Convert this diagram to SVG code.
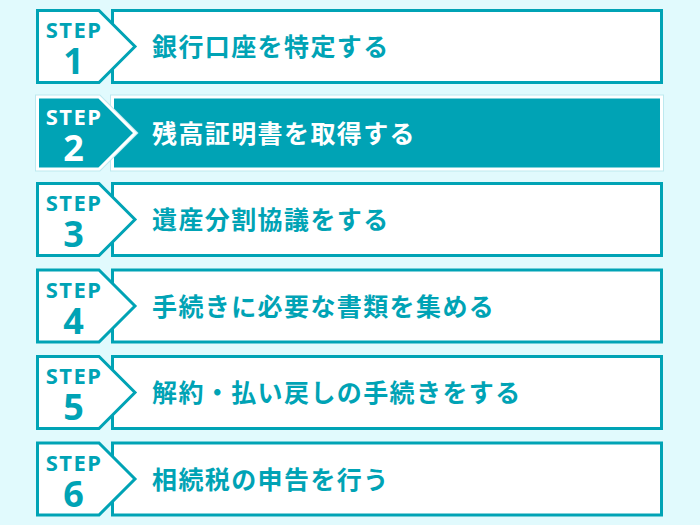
<svg xmlns="http://www.w3.org/2000/svg" width="700" height="525" viewBox="0 0 700 525">
<style>
.box{fill:#ffffff;stroke:#00a3b5;stroke-width:3}
.badge{fill:#ffffff;stroke:#00a3b5;stroke-width:3;stroke-linejoin:miter}
.hbox{fill:#00a3b5;stroke:#ffffff;stroke-width:3}
.halo{fill:none;stroke:#bde9ef;stroke-width:5;stroke-linejoin:miter}
.badgetext{font-family:"Noto Sans","Open Sans","Liberation Sans",sans-serif;font-weight:700;text-anchor:middle;fill:#00a3b5}
.step{font-size:22px;letter-spacing:1.4px}
.num{font-size:36px;letter-spacing:0}
.label{font-family:"Noto Sans CJK JP","Noto Sans",sans-serif;font-weight:700;font-size:25px;letter-spacing:1.4px;fill:#00a3b5}
.hl .badgetext,.hl .label{fill:#ffffff}
</style>
<defs>
<rect id="boxshape" x="112.5" y="10.5" width="549" height="72"/>
<polygon id="badgeshape" points="37.5,10.5 99,10.5 135,46.5 99,82.5 37.5,82.5"/>
</defs>
<rect x="0" y="0" width="700" height="525" fill="#e1fafd"/>
<g id="step1">
<use href="#boxshape" class="box"/>
<use href="#badgeshape" class="badge"/>
<text class="badgetext"><tspan class="step" x="74" y="38">STEP</tspan><tspan class="num" x="73.5" y="74">1</tspan></text>
<text class="label" x="152" y="56">銀行口座を特定する</text>
</g>
<g id="step2" class="hl" transform="translate(0,86.5)">
<use href="#boxshape" class="halo"/>
<use href="#boxshape" class="hbox"/>
<use href="#badgeshape" class="halo"/>
<use href="#badgeshape" class="hbox"/>
<text class="badgetext"><tspan class="step" x="74" y="38">STEP</tspan><tspan class="num" x="73.5" y="74">2</tspan></text>
<text class="label" x="152" y="56">残高証明書を取得する</text>
</g>
<g id="step3" transform="translate(0,173)">
<use href="#boxshape" class="box"/>
<use href="#badgeshape" class="badge"/>
<text class="badgetext"><tspan class="step" x="74" y="38">STEP</tspan><tspan class="num" x="73.5" y="74">3</tspan></text>
<text class="label" x="152" y="56">遺産分割協議をする</text>
</g>
<g id="step4" transform="translate(0,259.5)">
<use href="#boxshape" class="box"/>
<use href="#badgeshape" class="badge"/>
<text class="badgetext"><tspan class="step" x="74" y="38">STEP</tspan><tspan class="num" x="73.5" y="74">4</tspan></text>
<text class="label" x="152" y="56">手続きに必要な書類を集める</text>
</g>
<g id="step5" transform="translate(0,346)">
<use href="#boxshape" class="box"/>
<use href="#badgeshape" class="badge"/>
<text class="badgetext"><tspan class="step" x="74" y="38">STEP</tspan><tspan class="num" x="73.5" y="74">5</tspan></text>
<text class="label" x="152" y="56">解約・払い戻しの手続きをする</text>
</g>
<g id="step6" transform="translate(0,432.5)">
<use href="#boxshape" class="box"/>
<use href="#badgeshape" class="badge"/>
<text class="badgetext"><tspan class="step" x="74" y="38">STEP</tspan><tspan class="num" x="73.5" y="74">6</tspan></text>
<text class="label" x="152" y="56">相続税の申告を行う</text>
</g>
</svg>
